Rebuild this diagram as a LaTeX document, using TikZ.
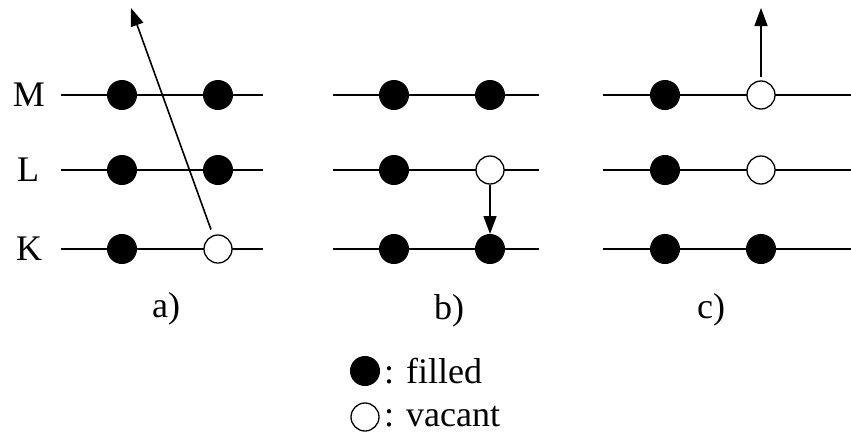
\documentclass[tikz,border=0pt]{standalone}
\usepackage{fontspec}
\setmainfont{Liberation Serif}
\usetikzlibrary{arrows.meta}
\begin{document}
\begin{tikzpicture}[x=1pt,y=-1pt,
  level/.style={line width=1.6pt},
  filled/.style={circle,fill=black,draw=black,line width=1pt,minimum size=29pt,inner sep=0pt},
  vacant/.style={circle,fill=white,draw=black,line width=1.3pt,minimum size=28pt,inner sep=0pt},
  lbl/.style={font=\fontsize{36}{40}\selectfont,inner sep=0pt},
  jump/.style={line width=1.6pt,-{Triangle[length=18pt,width=13pt]}}]
\useasboundingbox (0,0) rectangle (851,434);
% level lines
\foreach \y in {95,170,249}{
  \draw[level] (61,\y) -- (263,\y);
  \draw[level] (333,\y) -- (539,\y);
  \draw[level] (603,\y) -- (851,\y);
}
% level labels
\node[lbl] (M) at (29,95) {M};
\node[lbl] (L) at (28,170) {L};
\node[lbl] (K) at (29,249) {K};
% panel a
\node[filled] (aM1) at (122,95) {};
\node[filled] (aM2) at (218,95) {};
\node[filled] (aL1) at (122,170) {};
\node[filled] (aL2) at (218,170) {};
\node[filled] (aK1) at (122,249) {};
\node[vacant] (aK2) at (218,249) {};
\coordinate (aTip) at (131,8);
\draw[jump,shorten <=6pt] (aK2) -- (aTip);
% panel b
\node[filled] (bM1) at (394,95) {};
\node[filled] (bM2) at (490,95) {};
\node[filled] (bL1) at (394,170) {};
\node[vacant] (bL2) at (490,170) {};
\node[filled] (bK1) at (394,249) {};
\node[filled] (bK2) at (490,249) {};
\draw[jump] (bL2) -- (bK2);
% panel c
\node[filled] (cM1) at (665,95) {};
\node[vacant] (cM2) at (761,95) {};
\node[filled] (cL1) at (665,170) {};
\node[vacant] (cL2) at (761,170) {};
\node[filled] (cK1) at (665,249) {};
\node[filled] (cK2) at (761,249) {};
\coordinate (cTip) at (761,8);
\draw[jump,shorten <=3pt] (cM2) -- (cTip);
% panel labels
\node[lbl] (la) at (166,309) {a)};
\node[lbl] (lb) at (449,311) {b)};
\node[lbl] (lc) at (711,310) {c)};
% legend
\node[filled] (legF) at (365,371) {};
\node[vacant] (legV) at (365,417) {};
\node[lbl,anchor=west] (legFt) at (384,371) {: filled};
\node[lbl,anchor=west] (legVt) at (384,417) {: vacant};
\end{tikzpicture}
\end{document}
